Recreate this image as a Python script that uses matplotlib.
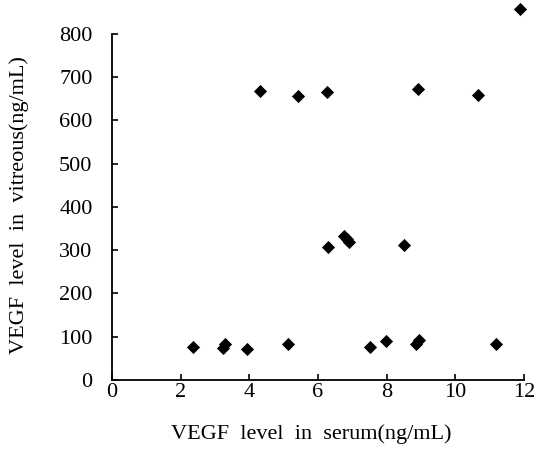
import matplotlib
matplotlib.use("Agg")
import matplotlib.pyplot as plt

serum = [11.88, 4.32, 5.42, 6.25, 8.92, 10.67,
         2.36, 3.24, 3.29, 3.93, 5.12, 6.29, 6.77, 6.85, 6.90,
         7.51, 7.99, 8.51, 8.85, 8.95, 11.19]
vitreous = [857, 668, 657, 665, 672, 658,
            77, 75, 83, 72, 84, 307, 333, 325, 318,
            77, 91, 313, 82, 92, 83]
xticks = [0, 2, 4, 6, 8, 10, 12]
yticks = [0, 100, 200, 300, 400, 500, 600, 700, 800]

plt.rcParams['font.family'] = ['Liberation Serif', 'DejaVu Serif']
fig = plt.figure(figsize=(5.34, 4.5), dpi=100)
ax = fig.add_axes([0.2097, 0.1556, 0.7716, 0.8444])
ax.scatter(serum, vitreous, marker='D', s=45, color='black', linewidths=0,
           zorder=3, clip_on=False)
ax.set_xlim(0, 12)
ax.set_ylim(0, 878)
ax.set_xticks(xticks)
ax.set_yticks(yticks)
ax.spines['top'].set_visible(False)
ax.spines['right'].set_visible(False)
ax.spines['left'].set_bounds(0, 800)
for s in ('left', 'bottom'):
    ax.spines[s].set_linewidth(1.3)
ax.tick_params(direction='in', length=4, width=1.2, labelsize=16)
ax.tick_params(axis='y', pad=14)
ax.tick_params(axis='x', pad=2)
fig.text(311 / 534, 1 - 434 / 450, 'VEGF  level  in  serum(ng/mL)', fontsize=16,
         ha='center', va='center')
fig.text(19 / 534, 1 - 205 / 450, 'VEGF  level  in  vitreous(ng/mL)', fontsize=16,
         ha='center', va='center', rotation=90)
fig.savefig('out.png', dpi=100)
